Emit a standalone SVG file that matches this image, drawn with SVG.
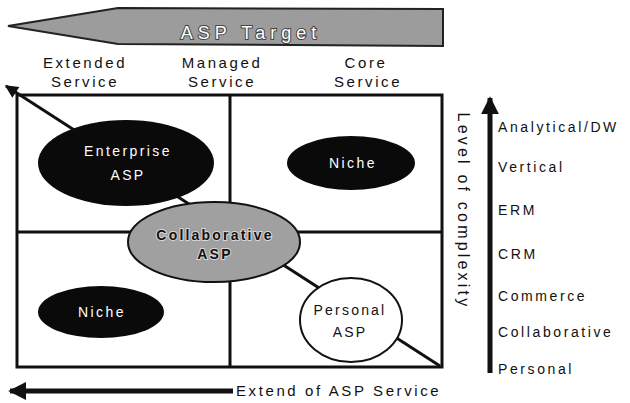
<svg xmlns="http://www.w3.org/2000/svg" width="630" height="403" viewBox="0 0 630 403">
<style>
text{font-family:"Liberation Sans",Arial,sans-serif;}
.lbl{font-size:15px;fill:#111;letter-spacing:2.6px;text-anchor:middle;}
.lvl{font-size:14px;fill:#111;letter-spacing:2.6px;}
.grid{fill:none;stroke:#111;stroke-width:3;}
.wt{font-size:14px;fill:#fff;letter-spacing:2.4px;text-anchor:middle;}
.bk{font-size:14px;fill:#111;letter-spacing:2.2px;text-anchor:middle;}
</style>
<defs>
<marker id="ah" viewBox="0 0 10 10" refX="9" refY="5" markerWidth="18" markerHeight="13" orient="auto" markerUnits="userSpaceOnUse">
<path d="M0,0 L10,5 L0,10 z" fill="#111"/>
</marker>
<marker id="ahb" viewBox="0 0 10 10" refX="9" refY="5" markerWidth="18" markerHeight="19" orient="auto" markerUnits="userSpaceOnUse">
<path d="M0,0 L10,5 L0,10 z" fill="#111"/>
</marker>
</defs>
<rect width="630" height="403" fill="#fff"/>
<g id="banner">
<polygon points="8,26 118,8 443,9 443,46 118,44" fill="#9c9c9c" stroke="#222" stroke-width="2"/>
<text x="251" y="39" font-size="18" letter-spacing="5" text-anchor="middle" fill="#fff" stroke="#444" stroke-width="2" paint-order="stroke">ASP Target</text>
</g>
<g id="column-labels">
<text class="lbl" x="85" y="68">Extended</text>
<text class="lbl" x="85" y="87">Service</text>
<text class="lbl" x="222" y="68">Managed</text>
<text class="lbl" x="222" y="87">Service</text>
<text class="lbl" x="366" y="68">Core</text>
<text class="lbl" x="368" y="87">Service</text>
</g>
<g id="grid">
<rect class="grid" x="17" y="95" width="425" height="272"/>
<line class="grid" x1="230" y1="95" x2="230" y2="367"/>
<line class="grid" x1="17" y1="232" x2="442" y2="232"/>
</g>
<g id="connectors">
<line x1="440" y1="366" x2="6" y2="86" stroke="#111" stroke-width="3" marker-end="url(#ah)"/>
<line x1="490" y1="373" x2="490" y2="98" stroke="#111" stroke-width="5" marker-end="url(#ahb)"/>
<line x1="233" y1="391" x2="10" y2="391" stroke="#111" stroke-width="5" marker-end="url(#ahb)"/>
</g>
<g id="enterprise">
<ellipse cx="126" cy="163" rx="88" ry="43" fill="#0a0a0a"/>
<text class="wt" x="128" y="156" font-size="15">Enterprise</text>
<text class="wt" x="128" y="180" font-size="15">ASP</text>
</g>
<g id="niche-top">
<ellipse cx="351" cy="163" rx="64" ry="27" fill="#0a0a0a"/>
<text class="wt" x="353" y="168">Niche</text>
</g>
<g id="collaborative">
<ellipse cx="214" cy="242" rx="86" ry="40" fill="#a0a0a0" stroke="#111" stroke-width="2"/>
<text class="bk" x="215" y="240" font-weight="bold" letter-spacing="2.6" stroke="#d8d8d8" stroke-width="2" paint-order="stroke">Collaborative</text>
<text class="bk" x="215" y="259" font-weight="bold" letter-spacing="2.6" stroke="#d8d8d8" stroke-width="2" paint-order="stroke">ASP</text>
</g>
<g id="niche-bottom">
<ellipse cx="101" cy="312" rx="63" ry="26" fill="#0a0a0a"/>
<text class="wt" x="102" y="317">Niche</text>
</g>
<g id="personal">
<ellipse cx="351" cy="320" rx="51" ry="42" fill="#fff" stroke="#111" stroke-width="2"/>
<text class="bk" x="350" y="315">Personal</text>
<text class="bk" x="350" y="337">ASP</text>
</g>
<g id="axis-labels">
<text x="458" y="211" font-size="16" letter-spacing="3.2" text-anchor="middle" fill="#111" transform="rotate(90 458 211)">Level of complexity</text>
<text x="236" y="396" font-size="15" letter-spacing="2.6" fill="#111">Extend of ASP Service</text>
</g>
<g id="complexity-levels">
<text class="lvl" x="498" y="132">Analytical/DW</text>
<text class="lvl" x="498" y="172">Vertical</text>
<text class="lvl" x="498" y="215">ERM</text>
<text class="lvl" x="498" y="259">CRM</text>
<text class="lvl" x="498" y="301">Commerce</text>
<text class="lvl" x="498" y="337">Collaborative</text>
<text class="lvl" x="498" y="374">Personal</text>
</g>
</svg>
